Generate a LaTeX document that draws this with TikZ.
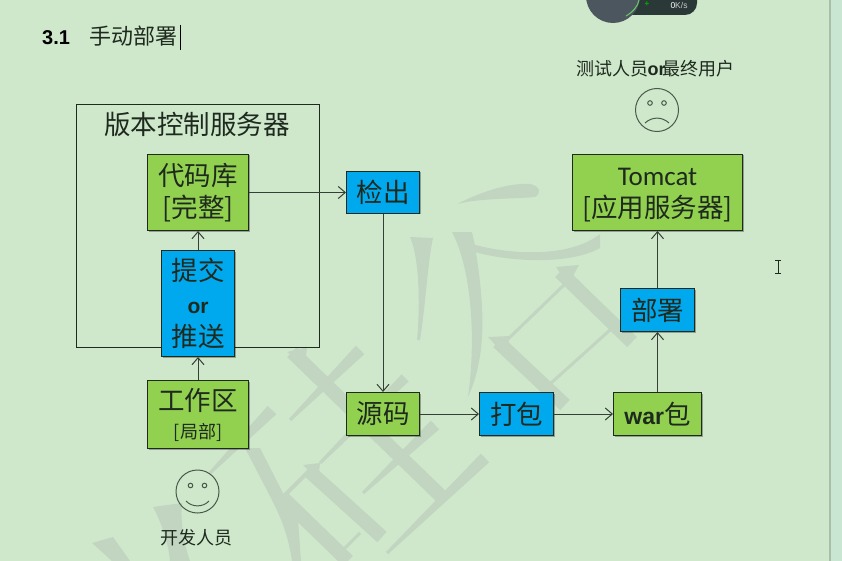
\documentclass[tikz,border=0pt]{standalone}
\usepackage{fontspec}
\setmainfont{Liberation Sans}
\newfontfamily\cjk{Noto Sans CJK SC}
\newfontfamily\carl{Carlito}
\usetikzlibrary{arrows.meta,shadows,calc}
\definecolor{bg}{HTML}{CFE8CC}
\definecolor{wm}{HTML}{C1D5C0}
\definecolor{gbox}{HTML}{92D050}
\definecolor{bbox}{HTML}{00A8EE}
\definecolor{ink}{HTML}{1E2A1E}
\definecolor{face}{HTML}{4A5A4A}
\definecolor{strip}{HTML}{C9E6D2}
\definecolor{edge}{HTML}{A9BDA8}
\definecolor{dial}{HTML}{4C565E}
\definecolor{pill}{HTML}{2A3838}
\tikzset{
  x=1pt,y=-1pt,
  base/.style={draw=ink,line width=1pt,inner sep=0pt,align=center,text=ink,font=\cjk\fontsize{26.5}{32}\selectfont,drop shadow={shadow xshift=1pt,shadow yshift=-1pt,opacity=.3,fill=black}},
  gnode/.style={base,fill=gbox},
  bnode/.style={base,fill=bbox},
  link/.style={draw=ink!90,line width=1pt,-{Straight Barb[length=7pt,width=12pt,line width=1pt]}},
  lbl/.style={inner sep=0pt,text=ink,font=\cjk},
  facering/.style={draw=face,line width=1pt,fill=none},
}
\newcommand{\boxat}[6]{\node[#1,minimum width=#4-#2-1,minimum height=#5-#3-1] (#6) at ({(#2+#4)/2},{(#3+#5)/2})}
% tapered watermark stroke: from, to, half width at start, half width at end
\newcommand{\wst}[6]{\fill[wm] ($(#1,#2)!#5pt!90:(#3,#4)$) -- ($(#1,#2)!#5pt!-90:(#3,#4)$) -- ($(#3,#4)!#6pt!90:(#1,#2)$) -- ($(#3,#4)!#6pt!-90:(#1,#2)$) -- cycle;}
\begin{document}
\begin{tikzpicture}
\useasboundingbox (0,0) rectangle (842,561);
\fill[bg] (0,0) rectangle (842,561);
\fill[strip] (830,0) rectangle (842,561);
\fill[edge] (828.5,0) rectangle (831,561);
% watermark
\begin{scope}
\clip (0,0) rectangle (828,561);
% upper character
\fill[wm] (457,204) .. controls (485,190) and (510,183) .. (530,184) .. controls (540,186) and (542,193) .. (535,197) .. controls (515,199) and (480,198) .. (457,204) -- cycle;
\fill[wm] (410,237) -- (433,238) .. controls (428,260) and (425,310) .. (420,340) -- (417,340) .. controls (420,310) and (420,260) .. (410,237) -- cycle;
\fill[wm] (452,232) -- (472,232) -- (475,246) .. controls (482,290) and (490,350) .. (468,397) .. controls (476,340) and (472,270) .. (452,232) -- cycle;
\fill[wm] (472,244) .. controls (510,255) and (570,258) .. (600,234) -- (600,248) .. controls (570,265) and (510,262) .. (475,252) -- cycle;
\wst{560}{272}{632}{342}{7}{7}
\fill[wm] (556,267) -- (579,265) -- (568,285) -- cycle;
\wst{565}{284}{507}{340}{1.5}{1.5}
\wst{498}{342}{565}{405}{7}{7}
\fill[wm] (488,337) -- (510,336) -- (505,355) -- cycle;
\wst{610}{330}{550}{384}{1.5}{1.5}
% lower character
\wst{292}{352}{445}{500}{7}{7}
\fill[wm] (287,352) -- (307,347) -- (305,365) -- cycle;
\wst{360}{350}{290}{420}{6}{1.5}
\wst{405}{378}{320}{463}{5}{1.5}
\wst{435}{425}{363}{493}{6}{1.5}
\wst{485}{458}{387}{553}{6}{1.5}
\wst{272}{410}{210}{473}{6}{1.5}
\fill[wm] (245,448) -- (260,448) -- (285,497) -- (298,520) -- (301,561) -- (292,561) .. controls (288,535) and (282,520) .. (272,500) -- cycle;
\wst{283}{498}{348}{561}{7}{7}
\wst{308}{470}{382}{537}{7}{7}
\fill[wm] (303,465) -- (320,463) -- (318,480) -- cycle;
\wst{313}{467}{283}{497}{2}{2}
\wst{360}{533}{340}{553}{1.5}{1.5}
% bottom left
\fill[wm] (153,507) -- (182,503) .. controls (180,520) and (184,545) .. (190,561) -- (170,561) .. controls (168,540) and (160,520) .. (153,507) -- cycle;
\fill[wm] (92,543) -- (113,537) -- (130,561) -- (112,561) -- cycle;
\end{scope}
% speed widget
\fill[pill,rounded corners=12pt] (600,-15) rectangle (697,15);
\fill[dial] (613,-4) circle (27);
\draw[green!45!gray!80!white,line width=1pt] (626,16) .. controls (633,12) and (638,6) .. (639,0);
\node[inner sep=0pt,text=white,font=\fontsize{8.5}{9}\selectfont] (speed) at (679,5) {0\textcolor{white!60!gray}{K/s}};
\node[inner sep=0pt,text=green!70!black,font=\bfseries\fontsize{8}{9}\selectfont] (plus) at (647,4) {+};
% heading
\node[anchor=base west,inner sep=0pt,font=\bfseries\fontsize{20}{22}\selectfont,text=black] (sec) at (42,45) {3.1};
\node[anchor=base west,inner sep=0pt,font=\cjk\fontsize{22}{24}\selectfont,text=ink] (title) at (89,45) {手动部署};
\draw[black,line width=1pt] (180,25) -- (180,50);
% outer box
\node[draw=ink,line width=1pt,minimum width=243,minimum height=243,inner sep=0pt] (server) at (198,226) {};
\node[lbl,font=\cjk\fontsize{26.5}{30}\selectfont] (servertxt) at (197,124) {版本控制服务器};
% nodes
\boxat{gnode}{147}{154}{249}{231}{repo} {代码库\\{[完整]}};
\boxat{bnode}{161}{250}{235}{357}{commit} {提交\\[1pt]{\fontspec{Liberation Sans}\fontsize{21}{24}\selectfont\bfseries or}\\[1pt]推送};
\boxat{gnode}{147}{380}{249}{449}{work} {工作区\\[-4pt]{\fontsize{18}{24}\selectfont[局部]}};
\boxat{bnode}{346}{171}{420}{214}{checkout} {检出};
\boxat{gnode}{346}{392}{420}{436}{source} {源码};
\boxat{bnode}{479}{392}{554}{436}{package} {打包};
\boxat{gnode}{613}{392}{702}{436}{war} {{\fontspec{Liberation Sans}\bfseries\fontsize{23}{32}\selectfont war}包};
\boxat{bnode}{620}{288}{695}{332}{deploy} {部署};
\boxat{gnode}{572}{154}{743}{231}{tomcat} {\vphantom{代}\smash{\carl\fontsize{27}{30}\selectfont Tomcat}\\{[应用服务器]}};
% connectors
\draw[link] (work.north) -- (commit.south);
\draw[link] (commit.north) -- (repo.south);
\draw[link] (repo.east) -- (checkout.west);
\draw[link] (checkout.south) -- (source.north);
\draw[link] (source.east) -- (package.west);
\draw[link] (package.east) -- (war.west);
\draw[link] (war.north) -- (deploy.south);
\draw[link] (deploy.north) -- (tomcat.south);
% faces
\node[facering,circle,minimum size=43,inner sep=0pt] (happy) at (197.5,491.5) {};
\draw[facering] (190.5,485.5) circle (2.3) (204.5,485.5) circle (2.3);
\draw[facering] (186,501) .. controls (192,507.5) and (203,507.5) .. (209,501);
\node[facering,circle,minimum size=43,inner sep=0pt] (sad) at (657,110) {};
\draw[facering] (650,103) circle (2.3) (664,103) circle (2.3);
\draw[facering] (645,123) .. controls (652,116.5) and (662,116.5) .. (669,123);
\node[lbl,font=\cjk\fontsize{18}{22}\selectfont] (dev) at (196.5,538) {开发人员};
\node[lbl,font=\cjk\fontsize{18}{22}\selectfont] (tester) at (655.5,69) {测试人员{\fontspec{Liberation Sans}\bfseries\kern-1pt or\kern-3pt}最终用户};
% cursor
\draw[ink,line width=.8pt] (775,260) -- (781,260) (775,273) -- (781,273) (778,260) -- (778,273);
\end{tikzpicture}
\end{document}
